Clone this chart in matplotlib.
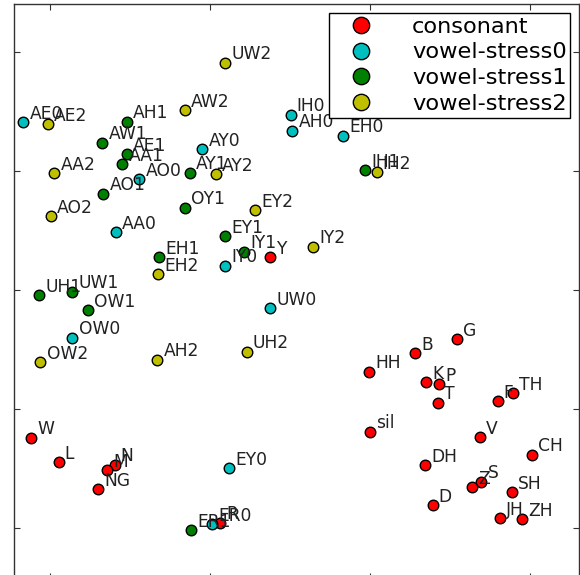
# Scatter of phone embeddings (2-D projection), coloured by phone class.

import matplotlib
matplotlib.use('Agg')
import matplotlib.pyplot as plt

# Consonants (red)
cons_labels = ['Y', 'W', 'L', 'N', 'M', 'NG', 'R', 'G', 'B', 'HH', 'K', 'P', 'T',
               'F', 'TH', 'sil', 'V', 'CH', 'DH', 'S', 'Z', 'SH', 'D', 'JH', 'ZH']
cons_x = [-3.12, -10.59, -9.73, -7.98, -8.21, -8.49, -4.67, 2.73, 1.41, -0.03, 1.76, 2.16, 2.12,
          3.99, 4.48, 0.00, 3.43, 5.07, 1.72, 3.48, 3.18, 4.43, 1.96, 4.06, 4.76]
cons_y = [1.37, -6.21, -7.23, -7.34, -7.58, -8.37, -9.78, -2.07, -2.66, -3.43, -3.88, -3.96, -4.74,
          -4.68, -4.34, -5.95, -6.19, -6.92, -7.35, -8.05, -8.28, -8.49, -9.03, -9.59, -9.63]

# Unstressed vowels (cyan)
s0_labels = ['AE0', 'AY0', 'AO0', 'AA0', 'IY0', 'IH0', 'AH0', 'EH0', 'UW0', 'OW0', 'EY0', 'ER0']
s0_x = [-10.83, -5.24, -7.21, -7.95, -4.52, -2.48, -2.42, -0.85, -3.13, -9.30, -4.40, -4.92]
s0_y = [7.06, 5.91, 4.66, 2.44, 1.02, 7.37, 6.69, 6.48, -0.76, -2.00, -7.49, -9.83]

# Primary stress vowels (green)
s1_labels = ['AH1', 'AW1', 'AE1', 'AA1', 'AY1', 'AO1', 'OY1', 'EY1', 'IY1', 'EH1',
             'IH1', 'UH1', 'UW1', 'OW1', 'ER1']
s1_x = [-7.59, -8.37, -7.60, -7.74, -5.63, -8.33, -5.79, -4.54, -3.94, -6.60,
        -0.15, -10.33, -9.30, -8.82, -5.60]
s1_y = [7.07, 6.19, 5.70, 5.28, 4.93, 4.05, 3.46, 2.26, 1.61, 1.39,
        5.04, -0.22, -0.07, -0.84, -10.08]

# Secondary stress vowels (yellow)
s2_labels = ['UW2', 'AW2', 'AE2', 'AA2', 'AY2', 'EY2', 'AO2', 'EH2', 'IH2', 'IY2',
             'OW2', 'AH2', 'UH2']
s2_x = [-4.53, -5.78, -10.07, -9.87, -4.81, -3.59, -9.98, -6.63, 0.21, -1.77,
        -10.30, -6.65, -3.85]
s2_y = [9.55, 7.56, 6.97, 4.90, 4.86, 3.36, 3.10, 0.67, 4.95, 1.82,
        -3.03, -2.93, -2.59]

groups = [
    ('consonant', 'r', cons_labels, cons_x, cons_y),
    ('vowel-stress0', 'c', s0_labels, s0_x, s0_y),
    ('vowel-stress1', 'g', s1_labels, s1_x, s1_y),
    ('vowel-stress2', 'y', s2_labels, s2_x, s2_y),
]

fig = plt.figure(figsize=(5.8, 5.75), dpi=100)
fig.patch.set_facecolor('white')
ax = fig.add_axes([13.5 / 580, -4 / 575, 565 / 580, 1.0])

for name, col, labels, xs, ys in groups:
    ax.plot(xs, ys, 'o', color=col, markeredgecolor='black', markeredgewidth=1.0,
            markersize=7.6, linestyle='none', label=name)

for name, col, labels, xs, ys in groups:
    for lab, x, y in zip(labels, xs, ys):
        ax.annotate(lab, (x, y), xytext=(4.5, 2.5), textcoords='offset points',
                    fontsize=12.3, color='#222222')

ax.set_xlim(-11.14, 6.52)
ax.set_ylim(-12.14, 12.02)
ax.set_xticks([-10, -5, 0, 5])
ax.set_yticks([-10, -5, 0, 5, 10])
ax.tick_params(direction='in', length=4, width=0.8, top=True, right=True,
               labelbottom=False, labelleft=False, colors='#333333')
for sp in ax.spines.values():
    sp.set_linewidth(1.0)
    sp.set_color('#333333')

leg = ax.legend(loc='upper right', bbox_to_anchor=(0.985, 0.984), borderaxespad=0,
                numpoints=1, markerscale=1.55, fontsize=16.2, labelspacing=0.26,
                borderpad=0.15, handlelength=2.52, handletextpad=1.0,
                fancybox=False, framealpha=1)
leg.get_frame().set_edgecolor('black')
leg.get_frame().set_linewidth(1.0)

fig.savefig('out.png', dpi=100)
